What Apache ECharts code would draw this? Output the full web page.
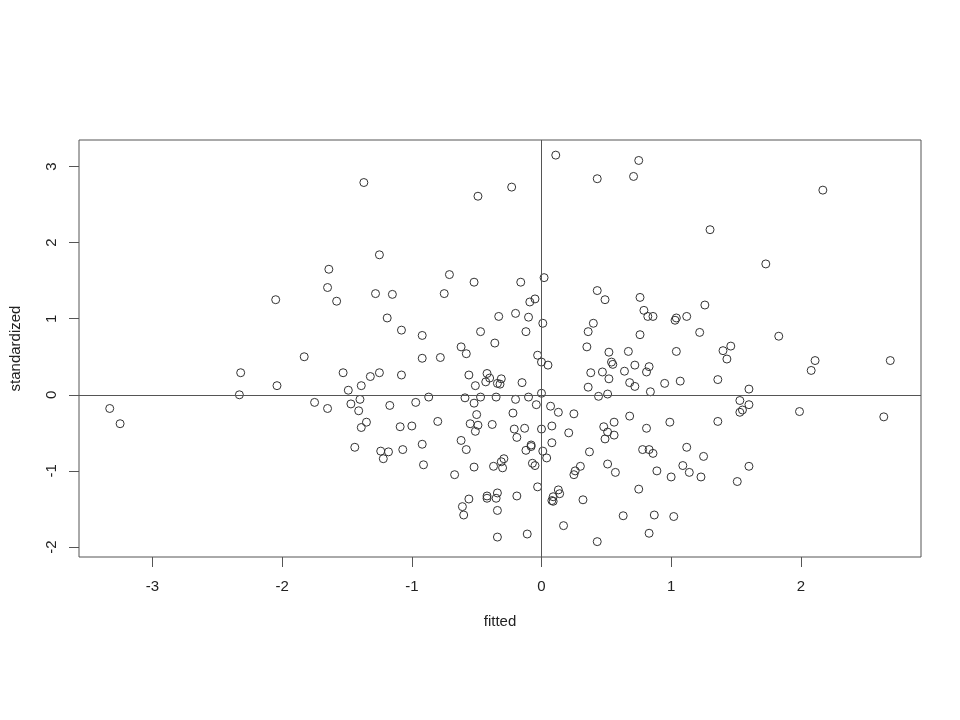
<!DOCTYPE html>
<html>
<head>
<meta charset="utf-8">
<script src="https://cdn.jsdelivr.net/npm/echarts@6/dist/echarts.min.js"></script>
<style>
html,body{margin:0;padding:0;background:#fff;}
#chart{width:960px;height:720px;}
</style>
</head>
<body>
<div id="chart"></div>
<script>
var fitted = [
-2.05,-1.37,-0.49,-0.23,-1.25,-1.64,-1.65,-1.58,-1.28,-1.15,-0.71,-0.52,-0.75,-1.19,-1.08,-0.92,-0.33,-0.47,-0.36,-0.62,
0.11,0.75,0.71,0.43,1.30,0.02,-0.16,0.43,0.49,0.76,-0.05,-0.09,-0.20,-0.10,0.01,-0.12,0.79,0.82,0.86,1.04,1.03,1.12,1.26,0.40,0.36,0.76,1.22,0.35,
2.17,1.73,1.83,1.46,1.40,
1.43,1.36,1.60,1.53,1.60,1.55,1.53,1.99,1.36,2.11,2.08,2.69,2.64,1.60,1.51,
-2.32,-2.33,-2.04,-3.33,-3.25,
-1.83,-1.53,-1.32,-1.25,-1.08,-1.39,-1.49,-0.92,-0.78,-0.58,-0.56,-0.42,-0.40,-0.43,-0.51,-0.31,-0.34,-0.32,
-1.75,-1.65,-1.47,-1.40,-1.41,-1.17,-0.97,-0.87,-0.59,-0.52,-0.47,-0.35,-0.50,-0.55,-0.49,-0.51,-0.38,
-1.35,-1.39,-1.09,-1.00,-0.80,-1.44,-1.24,-1.18,-1.22,-1.07,-0.92,-0.91,-0.62,-0.58,-0.67,-0.52,-0.37,-0.30,-0.31,-0.29,
-0.42,-0.42,-0.34,-0.35,-0.34,-0.56,-0.61,-0.60,-0.34,
0.52,0.67,1.04,-0.03,0.00,0.05,0.54,0.55,0.38,0.47,0.64,0.72,0.83,0.81,0.52,0.68,0.72,0.95,1.07,0.36,0.84,0.44,0.51,0.00,
-0.15,-0.10,-0.20,-0.04,0.07,0.13,0.25,-0.22,-0.21,-0.13,-0.19,0.00,0.08,0.21,0.08,0.68,0.56,0.48,0.51,0.56,0.49,0.81,0.99,
-0.08,-0.08,-0.12,0.01,0.04,0.37,0.78,0.83,0.86,1.12,1.25,-0.07,-0.05,0.30,0.26,0.25,0.51,0.57,0.89,1.00,1.09,1.14,1.23,
-0.03,-0.19,0.13,0.14,0.09,0.08,0.09,0.32,0.75,0.63,0.87,1.02,0.17,-0.11,0.83,0.43
];
var standardized = [
1.25,2.79,2.61,2.73,1.84,1.65,1.41,1.23,1.33,1.32,1.58,1.48,1.33,1.01,0.85,0.78,1.03,0.83,0.68,0.63,
3.15,3.08,2.87,2.84,2.17,1.54,1.48,1.37,1.25,1.28,1.26,1.22,1.07,1.02,0.94,0.83,1.11,1.03,1.03,1.01,0.98,1.03,1.18,0.94,0.83,0.79,0.82,0.63,
2.69,1.72,0.77,0.64,0.58,
0.47,0.20,0.075,-0.075,-0.13,-0.20,-0.23,-0.22,-0.35,0.45,0.32,0.45,-0.29,-0.94,-1.14,
0.29,0.00,0.12,-0.18,-0.38,
0.50,0.29,0.24,0.29,0.26,0.12,0.06,0.48,0.49,0.54,0.26,0.28,0.22,0.17,0.12,0.21,0.15,0.14,
-0.10,-0.18,-0.12,-0.06,-0.21,-0.14,-0.10,-0.03,-0.04,-0.11,-0.03,-0.03,-0.26,-0.38,-0.40,-0.48,-0.39,
-0.36,-0.43,-0.42,-0.41,-0.35,-0.69,-0.74,-0.75,-0.84,-0.72,-0.65,-0.92,-0.60,-0.72,-1.05,-0.95,-0.94,-0.96,-0.88,-0.84,
-1.33,-1.36,-1.29,-1.36,-1.52,-1.37,-1.47,-1.58,-1.87,
0.56,0.57,0.57,0.52,0.43,0.39,0.43,0.40,0.29,0.30,0.31,0.39,0.37,0.30,0.21,0.16,0.11,0.15,0.18,0.10,0.04,-0.02,0.01,0.02,
0.16,-0.03,-0.06,-0.13,-0.15,-0.23,-0.25,-0.24,-0.45,-0.44,-0.56,-0.45,-0.41,-0.50,-0.63,-0.28,-0.36,-0.42,-0.49,-0.53,-0.58,-0.44,-0.36,
-0.66,-0.68,-0.73,-0.74,-0.83,-0.75,-0.72,-0.72,-0.77,-0.69,-0.81,-0.90,-0.93,-0.94,-1.00,-1.05,-0.91,-1.02,-1.00,-1.08,-0.93,-1.02,-1.08,
-1.21,-1.33,-1.25,-1.30,-1.34,-1.39,-1.40,-1.38,-1.24,-1.59,-1.58,-1.60,-1.72,-1.83,-1.82,-1.93
];
var xTicks = [-3, -2, -1, 0, 1, 2];
var yTicks = [-2, -1, 0, 1, 2, 3];
var xName = 'fitted';
var yName = 'standardized';

var points = fitted.map(function (v, i) { return [v, standardized[i]]; });
var font = '"Liberation Sans", Arial, Helvetica, sans-serif';
var chart = echarts.init(document.getElementById('chart'), null, {renderer: 'canvas'});
chart.setOption({
  animation: false,
  backgroundColor: '#ffffff',
  grid: {left: 77, right: 39, top: 140, bottom: 163, show: true, borderColor: '#555', borderWidth: 1, backgroundColor: 'transparent'},
  xAxis: {
    type: 'value', min: -3.567, max: 2.927, position: 'bottom',
    splitLine: {show: false},
    axisLine: {show: false, onZero: false},
    axisTick: {show: true, inside: false, length: 10, lineStyle: {color: '#555'}, customValues: xTicks},
    axisLabel: {customValues: xTicks, margin: 22, fontSize: 15, color: '#222', fontFamily: font},
    name: xName, nameLocation: 'middle', nameGap: 57,
    nameTextStyle: {fontSize: 15, color: '#222', fontFamily: font}
  },
  yAxis: {
    type: 'value', min: -2.132, max: 3.349, position: 'left',
    splitLine: {show: false},
    axisLine: {show: false, onZero: false},
    axisTick: {show: true, inside: false, length: 10, lineStyle: {color: '#555'}, customValues: yTicks},
    axisLabel: {customValues: yTicks, rotate: 90, margin: 20, fontSize: 15, color: '#222', fontFamily: font},
    name: yName, nameLocation: 'middle', nameGap: 56, nameRotate: 90,
    nameTextStyle: {fontSize: 15, color: '#222', fontFamily: font}
  },
  series: [{
    type: 'scatter',
    data: points,
    symbol: 'circle',
    symbolSize: 8,
    itemStyle: {color: 'rgba(0,0,0,0)', borderColor: '#333', borderWidth: 1, opacity: 1},
    markLine: {
      silent: true,
      symbol: ['none', 'none'],
      label: {show: false},
      lineStyle: {color: '#555', type: 'solid', width: 1},
      data: [{xAxis: 0}, {yAxis: 0}]
    }
  }]
});
</script>
</body>
</html>
